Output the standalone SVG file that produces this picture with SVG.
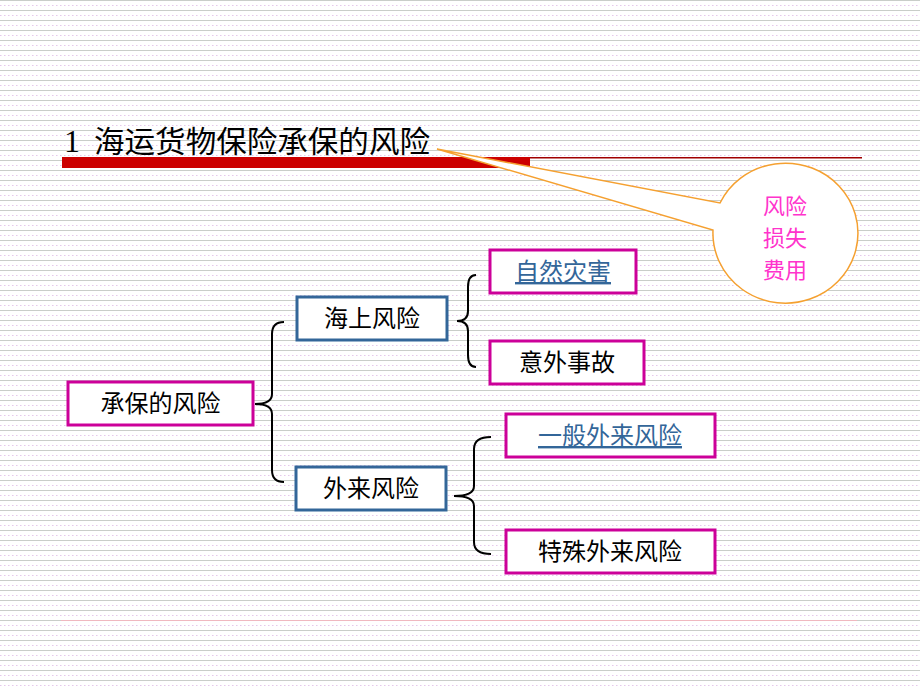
<svg xmlns="http://www.w3.org/2000/svg" width="920" height="690" viewBox="0 0 920 690">
<defs>
<pattern id="bg" patternUnits="userSpaceOnUse" x="0" y="0" width="8" height="10">
<rect width="8" height="10" fill="#ffffff"/>
<line x1="0" y1="0.5" x2="8" y2="0.5" stroke="#c9cdc9" stroke-width="1"/>
<line x1="0" y1="5.5" x2="8" y2="5.5" stroke="#e6c8ec" stroke-width="1" stroke-dasharray="1.5,2.5"/>
</pattern>
<style>
.box{fill:#ffffff;stroke-width:3}
.mag{stroke:#cc0099}
.blu{stroke:#336699}
.t{font-family:"Noto Sans CJK SC","Noto Sans",sans-serif;font-size:24px;text-anchor:middle;fill:#000000}
.c{font-family:"Noto Sans CJK SC","Noto Sans",sans-serif;font-size:22px;text-anchor:middle;fill:#ff33cc}
.lnk{fill:#336699;text-decoration:underline}
.brace{fill:none;stroke:#000000;stroke-width:2}
</style>
</defs>
<rect width="920" height="690" fill="url(#bg)"/>
<g id="title">
<rect x="62" y="157" width="468" height="11" fill="#cc0000"/>
<line x1="530" y1="157.8" x2="862" y2="157.8" stroke="#a00000" stroke-width="1.5"/>
<text x="64" y="152" font-family="'Liberation Serif',serif" font-size="32" fill="#000000">1</text>
<text x="94" y="152" font-family="'Noto Sans CJK SC',sans-serif" font-size="30" fill="#000000" textLength="336" lengthAdjust="spacingAndGlyphs">海运货物保险承保的风险</text>
</g>
<line x1="61" y1="620.5" x2="857" y2="620.5" stroke="#f0b8c0" stroke-width="1"/>
<g id="callout">
<path d="M720,203 A72.5,70 0 1 1 713,230 L437,149 Z" fill="#ffffff" stroke="#f5a030" stroke-width="1.5" stroke-linejoin="miter"/>
<text class="c" x="785" y="214">风险</text>
<text class="c" x="785" y="246">损失</text>
<text class="c" x="785" y="278">费用</text>
</g>
<g id="connectors">
<path class="brace" d="M284,322 Q272,322 272,334 L272,394 Q272,404 255,404 Q272,404 272,414 L272,470 Q272,482 284,482"/>
<path class="brace" d="M476,275 Q468,275 468,287 L468,311 Q468,321 457,321 Q468,321 468,331 L468,355 Q468,367 476,367"/>
<path class="brace" d="M491,437 Q474,437 474,449 L474,486 Q474,496 454,496 Q474,496 474,506 L474,542 Q474,554 491,554"/>
</g>
<g id="n-root">
<rect class="box mag" x="68" y="382" width="185" height="43"/>
<text class="t" x="160.5" y="412">承保的风险</text>
</g>
<g id="n-sea">
<rect class="box blu" x="297" y="297" width="150" height="43"/>
<text class="t" x="372" y="327">海上风险</text>
</g>
<g id="n-nat">
<rect class="box mag" x="490" y="250" width="146" height="43"/>
<text class="t lnk" x="563" y="280">自然灾害</text>
</g>
<g id="n-acc">
<rect class="box mag" x="490" y="341" width="154" height="43"/>
<text class="t" x="567" y="371">意外事故</text>
</g>
<g id="n-ext">
<rect class="box blu" x="296" y="467" width="150" height="43"/>
<text class="t" x="371" y="497">外来风险</text>
</g>
<g id="n-gen">
<rect class="box mag" x="506" y="414" width="209" height="43"/>
<text class="t lnk" x="610" y="444">一般外来风险</text>
</g>
<g id="n-spe">
<rect class="box mag" x="506" y="530" width="209" height="43"/>
<text class="t" x="610" y="560">特殊外来风险</text>
</g>
</svg>
